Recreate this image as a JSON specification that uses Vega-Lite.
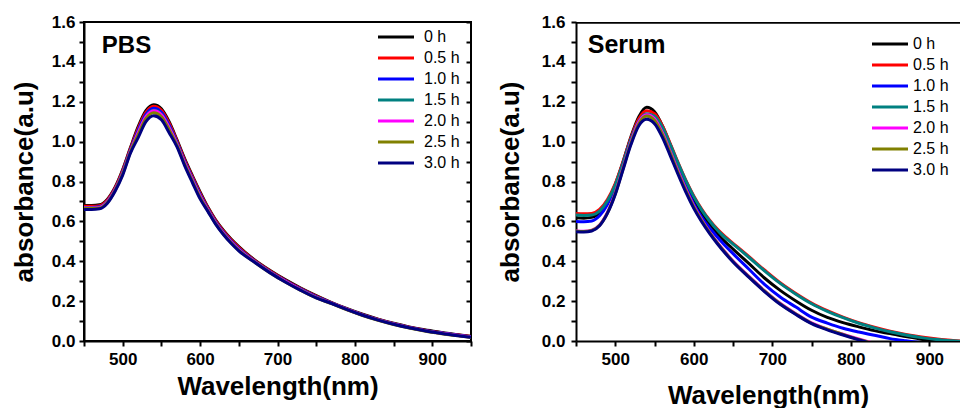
{
"$schema":"https://vega.github.io/schema/vega-lite/v6.json",
"background":"white",
"padding":{"left":10,"top":12,"right":0,"bottom":0},
"bounds":"flush",
"spacing":105,
"datasets":{
"pbs":[
{"t":"0 h","w":450,"a":0.680},{"t":"0 h","w":460,"a":0.680},{"t":"0 h","w":470,"a":0.683},{"t":"0 h","w":480,"a":0.710},{"t":"0 h","w":490,"a":0.770},{"t":"0 h","w":500,"a":0.860},{"t":"0 h","w":510,"a":0.970},{"t":"0 h","w":520,"a":1.075},{"t":"0 h","w":530,"a":1.155},{"t":"0 h","w":540,"a":1.185},{"t":"0 h","w":550,"a":1.165},{"t":"0 h","w":560,"a":1.100},{"t":"0 h","w":570,"a":1.010},{"t":"0 h","w":580,"a":0.915},{"t":"0 h","w":590,"a":0.830},{"t":"0 h","w":600,"a":0.748},{"t":"0 h","w":610,"a":0.672},{"t":"0 h","w":620,"a":0.608},{"t":"0 h","w":630,"a":0.556},{"t":"0 h","w":640,"a":0.512},{"t":"0 h","w":650,"a":0.474},{"t":"0 h","w":670,"a":0.408},{"t":"0 h","w":690,"a":0.355},{"t":"0 h","w":710,"a":0.308},{"t":"0 h","w":730,"a":0.266},{"t":"0 h","w":750,"a":0.228},{"t":"0 h","w":770,"a":0.193},{"t":"0 h","w":790,"a":0.162},{"t":"0 h","w":810,"a":0.134},{"t":"0 h","w":830,"a":0.110},{"t":"0 h","w":850,"a":0.089},{"t":"0 h","w":870,"a":0.071},{"t":"0 h","w":890,"a":0.056},{"t":"0 h","w":910,"a":0.044},{"t":"0 h","w":930,"a":0.033},{"t":"0 h","w":950,"a":0.024},
{"t":"0.5 h","w":450,"a":0.676},{"t":"0.5 h","w":460,"a":0.676},{"t":"0.5 h","w":470,"a":0.679},{"t":"0.5 h","w":480,"a":0.706},{"t":"0.5 h","w":490,"a":0.766},{"t":"0.5 h","w":500,"a":0.855},{"t":"0.5 h","w":510,"a":0.965},{"t":"0.5 h","w":520,"a":1.067},{"t":"0.5 h","w":530,"a":1.147},{"t":"0.5 h","w":540,"a":1.177},{"t":"0.5 h","w":550,"a":1.157},{"t":"0.5 h","w":560,"a":1.092},{"t":"0.5 h","w":570,"a":1.004},{"t":"0.5 h","w":580,"a":0.909},{"t":"0.5 h","w":590,"a":0.824},{"t":"0.5 h","w":600,"a":0.742},{"t":"0.5 h","w":610,"a":0.668},{"t":"0.5 h","w":620,"a":0.604},{"t":"0.5 h","w":630,"a":0.552},{"t":"0.5 h","w":640,"a":0.508},{"t":"0.5 h","w":650,"a":0.470},{"t":"0.5 h","w":670,"a":0.405},{"t":"0.5 h","w":690,"a":0.352},{"t":"0.5 h","w":710,"a":0.305},{"t":"0.5 h","w":730,"a":0.263},{"t":"0.5 h","w":750,"a":0.225},{"t":"0.5 h","w":770,"a":0.191},{"t":"0.5 h","w":790,"a":0.160},{"t":"0.5 h","w":810,"a":0.132},{"t":"0.5 h","w":830,"a":0.108},{"t":"0.5 h","w":850,"a":0.087},{"t":"0.5 h","w":870,"a":0.069},{"t":"0.5 h","w":890,"a":0.054},{"t":"0.5 h","w":910,"a":0.042},{"t":"0.5 h","w":930,"a":0.031},{"t":"0.5 h","w":950,"a":0.022},
{"t":"1.0 h","w":450,"a":0.670},{"t":"1.0 h","w":460,"a":0.670},{"t":"1.0 h","w":470,"a":0.673},{"t":"1.0 h","w":480,"a":0.700},{"t":"1.0 h","w":490,"a":0.760},{"t":"1.0 h","w":500,"a":0.848},{"t":"1.0 h","w":510,"a":0.958},{"t":"1.0 h","w":520,"a":1.057},{"t":"1.0 h","w":530,"a":1.137},{"t":"1.0 h","w":540,"a":1.167},{"t":"1.0 h","w":550,"a":1.147},{"t":"1.0 h","w":560,"a":1.082},{"t":"1.0 h","w":570,"a":0.996},{"t":"1.0 h","w":580,"a":0.901},{"t":"1.0 h","w":590,"a":0.816},{"t":"1.0 h","w":600,"a":0.734},{"t":"1.0 h","w":610,"a":0.662},{"t":"1.0 h","w":620,"a":0.598},{"t":"1.0 h","w":630,"a":0.546},{"t":"1.0 h","w":640,"a":0.502},{"t":"1.0 h","w":650,"a":0.464},{"t":"1.0 h","w":670,"a":0.402},{"t":"1.0 h","w":690,"a":0.349},{"t":"1.0 h","w":710,"a":0.302},{"t":"1.0 h","w":730,"a":0.260},{"t":"1.0 h","w":750,"a":0.222},{"t":"1.0 h","w":770,"a":0.190},{"t":"1.0 h","w":790,"a":0.159},{"t":"1.0 h","w":810,"a":0.131},{"t":"1.0 h","w":830,"a":0.107},{"t":"1.0 h","w":850,"a":0.086},{"t":"1.0 h","w":870,"a":0.068},{"t":"1.0 h","w":890,"a":0.053},{"t":"1.0 h","w":910,"a":0.041},{"t":"1.0 h","w":930,"a":0.030},{"t":"1.0 h","w":950,"a":0.021},
{"t":"1.5 h","w":450,"a":0.668},{"t":"1.5 h","w":460,"a":0.668},{"t":"1.5 h","w":470,"a":0.671},{"t":"1.5 h","w":480,"a":0.698},{"t":"1.5 h","w":490,"a":0.758},{"t":"1.5 h","w":500,"a":0.844},{"t":"1.5 h","w":510,"a":0.954},{"t":"1.5 h","w":520,"a":1.047},{"t":"1.5 h","w":530,"a":1.127},{"t":"1.5 h","w":540,"a":1.157},{"t":"1.5 h","w":550,"a":1.137},{"t":"1.5 h","w":560,"a":1.072},{"t":"1.5 h","w":570,"a":0.990},{"t":"1.5 h","w":580,"a":0.895},{"t":"1.5 h","w":590,"a":0.810},{"t":"1.5 h","w":600,"a":0.728},{"t":"1.5 h","w":610,"a":0.658},{"t":"1.5 h","w":620,"a":0.594},{"t":"1.5 h","w":630,"a":0.542},{"t":"1.5 h","w":640,"a":0.498},{"t":"1.5 h","w":650,"a":0.460},{"t":"1.5 h","w":670,"a":0.400},{"t":"1.5 h","w":690,"a":0.347},{"t":"1.5 h","w":710,"a":0.300},{"t":"1.5 h","w":730,"a":0.258},{"t":"1.5 h","w":750,"a":0.220},{"t":"1.5 h","w":770,"a":0.189},{"t":"1.5 h","w":790,"a":0.158},{"t":"1.5 h","w":810,"a":0.130},{"t":"1.5 h","w":830,"a":0.106},{"t":"1.5 h","w":850,"a":0.085},{"t":"1.5 h","w":870,"a":0.067},{"t":"1.5 h","w":890,"a":0.052},{"t":"1.5 h","w":910,"a":0.040},{"t":"1.5 h","w":930,"a":0.029},{"t":"1.5 h","w":950,"a":0.020},
{"t":"2.0 h","w":450,"a":0.667},{"t":"2.0 h","w":460,"a":0.667},{"t":"2.0 h","w":470,"a":0.670},{"t":"2.0 h","w":480,"a":0.697},{"t":"2.0 h","w":490,"a":0.757},{"t":"2.0 h","w":500,"a":0.842},{"t":"2.0 h","w":510,"a":0.952},{"t":"2.0 h","w":520,"a":1.045},{"t":"2.0 h","w":530,"a":1.125},{"t":"2.0 h","w":540,"a":1.155},{"t":"2.0 h","w":550,"a":1.135},{"t":"2.0 h","w":560,"a":1.070},{"t":"2.0 h","w":570,"a":0.988},{"t":"2.0 h","w":580,"a":0.893},{"t":"2.0 h","w":590,"a":0.808},{"t":"2.0 h","w":600,"a":0.726},{"t":"2.0 h","w":610,"a":0.657},{"t":"2.0 h","w":620,"a":0.593},{"t":"2.0 h","w":630,"a":0.541},{"t":"2.0 h","w":640,"a":0.497},{"t":"2.0 h","w":650,"a":0.459},{"t":"2.0 h","w":670,"a":0.399},{"t":"2.0 h","w":690,"a":0.346},{"t":"2.0 h","w":710,"a":0.299},{"t":"2.0 h","w":730,"a":0.257},{"t":"2.0 h","w":750,"a":0.219},{"t":"2.0 h","w":770,"a":0.189},{"t":"2.0 h","w":790,"a":0.158},{"t":"2.0 h","w":810,"a":0.130},{"t":"2.0 h","w":830,"a":0.106},{"t":"2.0 h","w":850,"a":0.085},{"t":"2.0 h","w":870,"a":0.067},{"t":"2.0 h","w":890,"a":0.052},{"t":"2.0 h","w":910,"a":0.040},{"t":"2.0 h","w":930,"a":0.029},{"t":"2.0 h","w":950,"a":0.020},
{"t":"2.5 h","w":450,"a":0.664},{"t":"2.5 h","w":460,"a":0.664},{"t":"2.5 h","w":470,"a":0.667},{"t":"2.5 h","w":480,"a":0.694},{"t":"2.5 h","w":490,"a":0.754},{"t":"2.5 h","w":500,"a":0.838},{"t":"2.5 h","w":510,"a":0.948},{"t":"2.5 h","w":520,"a":1.035},{"t":"2.5 h","w":530,"a":1.115},{"t":"2.5 h","w":540,"a":1.145},{"t":"2.5 h","w":550,"a":1.125},{"t":"2.5 h","w":560,"a":1.060},{"t":"2.5 h","w":570,"a":0.982},{"t":"2.5 h","w":580,"a":0.887},{"t":"2.5 h","w":590,"a":0.802},{"t":"2.5 h","w":600,"a":0.720},{"t":"2.5 h","w":610,"a":0.653},{"t":"2.5 h","w":620,"a":0.589},{"t":"2.5 h","w":630,"a":0.537},{"t":"2.5 h","w":640,"a":0.493},{"t":"2.5 h","w":650,"a":0.455},{"t":"2.5 h","w":670,"a":0.396},{"t":"2.5 h","w":690,"a":0.343},{"t":"2.5 h","w":710,"a":0.296},{"t":"2.5 h","w":730,"a":0.254},{"t":"2.5 h","w":750,"a":0.216},{"t":"2.5 h","w":770,"a":0.187},{"t":"2.5 h","w":790,"a":0.156},{"t":"2.5 h","w":810,"a":0.128},{"t":"2.5 h","w":830,"a":0.104},{"t":"2.5 h","w":850,"a":0.083},{"t":"2.5 h","w":870,"a":0.065},{"t":"2.5 h","w":890,"a":0.050},{"t":"2.5 h","w":910,"a":0.038},{"t":"2.5 h","w":930,"a":0.027},{"t":"2.5 h","w":950,"a":0.018},
{"t":"3.0 h","w":450,"a":0.660},{"t":"3.0 h","w":460,"a":0.660},{"t":"3.0 h","w":470,"a":0.663},{"t":"3.0 h","w":480,"a":0.690},{"t":"3.0 h","w":490,"a":0.750},{"t":"3.0 h","w":500,"a":0.832},{"t":"3.0 h","w":510,"a":0.942},{"t":"3.0 h","w":520,"a":1.020},{"t":"3.0 h","w":530,"a":1.100},{"t":"3.0 h","w":540,"a":1.130},{"t":"3.0 h","w":550,"a":1.110},{"t":"3.0 h","w":560,"a":1.045},{"t":"3.0 h","w":570,"a":0.975},{"t":"3.0 h","w":580,"a":0.880},{"t":"3.0 h","w":590,"a":0.795},{"t":"3.0 h","w":600,"a":0.713},{"t":"3.0 h","w":610,"a":0.650},{"t":"3.0 h","w":620,"a":0.586},{"t":"3.0 h","w":630,"a":0.534},{"t":"3.0 h","w":640,"a":0.490},{"t":"3.0 h","w":650,"a":0.452},{"t":"3.0 h","w":670,"a":0.396},{"t":"3.0 h","w":690,"a":0.343},{"t":"3.0 h","w":710,"a":0.296},{"t":"3.0 h","w":730,"a":0.254},{"t":"3.0 h","w":750,"a":0.216},{"t":"3.0 h","w":770,"a":0.188},{"t":"3.0 h","w":790,"a":0.157},{"t":"3.0 h","w":810,"a":0.129},{"t":"3.0 h","w":830,"a":0.105},{"t":"3.0 h","w":850,"a":0.084},{"t":"3.0 h","w":870,"a":0.066},{"t":"3.0 h","w":890,"a":0.051},{"t":"3.0 h","w":910,"a":0.039},{"t":"3.0 h","w":930,"a":0.028},{"t":"3.0 h","w":950,"a":0.019}
],
"serum":[
{"t":"0 h","w":450,"a":0.618},{"t":"0 h","w":460,"a":0.616},{"t":"0 h","w":470,"a":0.620},{"t":"0 h","w":480,"a":0.645},{"t":"0 h","w":490,"a":0.700},{"t":"0 h","w":500,"a":0.785},{"t":"0 h","w":510,"a":0.900},{"t":"0 h","w":520,"a":1.025},{"t":"0 h","w":530,"a":1.125},{"t":"0 h","w":540,"a":1.172},{"t":"0 h","w":550,"a":1.150},{"t":"0 h","w":560,"a":1.080},{"t":"0 h","w":570,"a":0.985},{"t":"0 h","w":580,"a":0.885},{"t":"0 h","w":590,"a":0.790},{"t":"0 h","w":600,"a":0.708},{"t":"0 h","w":610,"a":0.640},{"t":"0 h","w":620,"a":0.584},{"t":"0 h","w":630,"a":0.537},{"t":"0 h","w":640,"a":0.497},{"t":"0 h","w":650,"a":0.461},{"t":"0 h","w":670,"a":0.389},{"t":"0 h","w":690,"a":0.316},{"t":"0 h","w":710,"a":0.254},{"t":"0 h","w":730,"a":0.201},{"t":"0 h","w":750,"a":0.154},{"t":"0 h","w":770,"a":0.118},{"t":"0 h","w":790,"a":0.092},{"t":"0 h","w":810,"a":0.071},{"t":"0 h","w":830,"a":0.052},{"t":"0 h","w":850,"a":0.037},{"t":"0 h","w":870,"a":0.022},{"t":"0 h","w":890,"a":0.009},{"t":"0 h","w":910,"a":-0.003},{"t":"0 h","w":930,"a":-0.012},{"t":"0 h","w":950,"a":-0.020},
{"t":"0.5 h","w":450,"a":0.640},{"t":"0.5 h","w":460,"a":0.638},{"t":"0.5 h","w":470,"a":0.640},{"t":"0.5 h","w":480,"a":0.660},{"t":"0.5 h","w":490,"a":0.710},{"t":"0.5 h","w":500,"a":0.790},{"t":"0.5 h","w":510,"a":0.900},{"t":"0.5 h","w":520,"a":1.020},{"t":"0.5 h","w":530,"a":1.115},{"t":"0.5 h","w":540,"a":1.155},{"t":"0.5 h","w":550,"a":1.140},{"t":"0.5 h","w":560,"a":1.080},{"t":"0.5 h","w":570,"a":0.990},{"t":"0.5 h","w":580,"a":0.895},{"t":"0.5 h","w":590,"a":0.806},{"t":"0.5 h","w":600,"a":0.728},{"t":"0.5 h","w":610,"a":0.662},{"t":"0.5 h","w":620,"a":0.607},{"t":"0.5 h","w":630,"a":0.561},{"t":"0.5 h","w":640,"a":0.523},{"t":"0.5 h","w":650,"a":0.490},{"t":"0.5 h","w":670,"a":0.424},{"t":"0.5 h","w":690,"a":0.356},{"t":"0.5 h","w":710,"a":0.292},{"t":"0.5 h","w":730,"a":0.238},{"t":"0.5 h","w":750,"a":0.190},{"t":"0.5 h","w":770,"a":0.152},{"t":"0.5 h","w":790,"a":0.120},{"t":"0.5 h","w":810,"a":0.092},{"t":"0.5 h","w":830,"a":0.069},{"t":"0.5 h","w":850,"a":0.049},{"t":"0.5 h","w":870,"a":0.033},{"t":"0.5 h","w":890,"a":0.020},{"t":"0.5 h","w":910,"a":0.010},{"t":"0.5 h","w":930,"a":0.003},{"t":"0.5 h","w":950,"a":-0.004},
{"t":"1.0 h","w":450,"a":0.600},{"t":"1.0 h","w":460,"a":0.598},{"t":"1.0 h","w":470,"a":0.602},{"t":"1.0 h","w":480,"a":0.628},{"t":"1.0 h","w":490,"a":0.685},{"t":"1.0 h","w":500,"a":0.772},{"t":"1.0 h","w":510,"a":0.890},{"t":"1.0 h","w":520,"a":1.010},{"t":"1.0 h","w":530,"a":1.100},{"t":"1.0 h","w":540,"a":1.130},{"t":"1.0 h","w":550,"a":1.110},{"t":"1.0 h","w":560,"a":1.045},{"t":"1.0 h","w":570,"a":0.955},{"t":"1.0 h","w":580,"a":0.860},{"t":"1.0 h","w":590,"a":0.770},{"t":"1.0 h","w":600,"a":0.688},{"t":"1.0 h","w":610,"a":0.622},{"t":"1.0 h","w":620,"a":0.568},{"t":"1.0 h","w":630,"a":0.522},{"t":"1.0 h","w":640,"a":0.478},{"t":"1.0 h","w":650,"a":0.438},{"t":"1.0 h","w":670,"a":0.361},{"t":"1.0 h","w":690,"a":0.284},{"t":"1.0 h","w":710,"a":0.221},{"t":"1.0 h","w":730,"a":0.170},{"t":"1.0 h","w":750,"a":0.120},{"t":"1.0 h","w":770,"a":0.090},{"t":"1.0 h","w":790,"a":0.064},{"t":"1.0 h","w":810,"a":0.045},{"t":"1.0 h","w":830,"a":0.029},{"t":"1.0 h","w":850,"a":0.012},{"t":"1.0 h","w":870,"a":0.001},{"t":"1.0 h","w":890,"a":-0.008},{"t":"1.0 h","w":910,"a":-0.015},{"t":"1.0 h","w":930,"a":-0.020},{"t":"1.0 h","w":950,"a":-0.025},
{"t":"1.5 h","w":450,"a":0.632},{"t":"1.5 h","w":460,"a":0.630},{"t":"1.5 h","w":470,"a":0.632},{"t":"1.5 h","w":480,"a":0.652},{"t":"1.5 h","w":490,"a":0.702},{"t":"1.5 h","w":500,"a":0.782},{"t":"1.5 h","w":510,"a":0.892},{"t":"1.5 h","w":520,"a":1.010},{"t":"1.5 h","w":530,"a":1.102},{"t":"1.5 h","w":540,"a":1.140},{"t":"1.5 h","w":550,"a":1.128},{"t":"1.5 h","w":560,"a":1.072},{"t":"1.5 h","w":570,"a":0.985},{"t":"1.5 h","w":580,"a":0.892},{"t":"1.5 h","w":590,"a":0.803},{"t":"1.5 h","w":600,"a":0.724},{"t":"1.5 h","w":610,"a":0.658},{"t":"1.5 h","w":620,"a":0.603},{"t":"1.5 h","w":630,"a":0.557},{"t":"1.5 h","w":640,"a":0.519},{"t":"1.5 h","w":650,"a":0.486},{"t":"1.5 h","w":670,"a":0.420},{"t":"1.5 h","w":690,"a":0.352},{"t":"1.5 h","w":710,"a":0.289},{"t":"1.5 h","w":730,"a":0.235},{"t":"1.5 h","w":750,"a":0.187},{"t":"1.5 h","w":770,"a":0.149},{"t":"1.5 h","w":790,"a":0.117},{"t":"1.5 h","w":810,"a":0.089},{"t":"1.5 h","w":830,"a":0.066},{"t":"1.5 h","w":850,"a":0.046},{"t":"1.5 h","w":870,"a":0.030},{"t":"1.5 h","w":890,"a":0.017},{"t":"1.5 h","w":910,"a":0.007},{"t":"1.5 h","w":930,"a":0.001},{"t":"1.5 h","w":950,"a":-0.005},
{"t":"2.0 h","w":450,"a":0.552},{"t":"2.0 h","w":460,"a":0.551},{"t":"2.0 h","w":470,"a":0.556},{"t":"2.0 h","w":480,"a":0.582},{"t":"2.0 h","w":490,"a":0.645},{"t":"2.0 h","w":500,"a":0.742},{"t":"2.0 h","w":510,"a":0.870},{"t":"2.0 h","w":520,"a":0.998},{"t":"2.0 h","w":530,"a":1.098},{"t":"2.0 h","w":540,"a":1.135},{"t":"2.0 h","w":550,"a":1.115},{"t":"2.0 h","w":560,"a":1.045},{"t":"2.0 h","w":570,"a":0.950},{"t":"2.0 h","w":580,"a":0.852},{"t":"2.0 h","w":590,"a":0.760},{"t":"2.0 h","w":600,"a":0.677},{"t":"2.0 h","w":610,"a":0.608},{"t":"2.0 h","w":620,"a":0.548},{"t":"2.0 h","w":630,"a":0.495},{"t":"2.0 h","w":640,"a":0.446},{"t":"2.0 h","w":650,"a":0.401},{"t":"2.0 h","w":670,"a":0.325},{"t":"2.0 h","w":690,"a":0.253},{"t":"2.0 h","w":710,"a":0.189},{"t":"2.0 h","w":730,"a":0.137},{"t":"2.0 h","w":750,"a":0.091},{"t":"2.0 h","w":770,"a":0.060},{"t":"2.0 h","w":790,"a":0.034},{"t":"2.0 h","w":810,"a":0.010},{"t":"2.0 h","w":830,"a":-0.012},{"t":"2.0 h","w":850,"a":-0.028},{"t":"2.0 h","w":870,"a":-0.040},{"t":"2.0 h","w":890,"a":-0.050},{"t":"2.0 h","w":910,"a":-0.058},{"t":"2.0 h","w":930,"a":-0.064},{"t":"2.0 h","w":950,"a":-0.070},
{"t":"2.5 h","w":450,"a":0.550},{"t":"2.5 h","w":460,"a":0.549},{"t":"2.5 h","w":470,"a":0.554},{"t":"2.5 h","w":480,"a":0.580},{"t":"2.5 h","w":490,"a":0.642},{"t":"2.5 h","w":500,"a":0.738},{"t":"2.5 h","w":510,"a":0.865},{"t":"2.5 h","w":520,"a":0.992},{"t":"2.5 h","w":530,"a":1.090},{"t":"2.5 h","w":540,"a":1.128},{"t":"2.5 h","w":550,"a":1.106},{"t":"2.5 h","w":560,"a":1.036},{"t":"2.5 h","w":570,"a":0.942},{"t":"2.5 h","w":580,"a":0.845},{"t":"2.5 h","w":590,"a":0.754},{"t":"2.5 h","w":600,"a":0.672},{"t":"2.5 h","w":610,"a":0.604},{"t":"2.5 h","w":620,"a":0.545},{"t":"2.5 h","w":630,"a":0.492},{"t":"2.5 h","w":640,"a":0.444},{"t":"2.5 h","w":650,"a":0.399},{"t":"2.5 h","w":670,"a":0.323},{"t":"2.5 h","w":690,"a":0.251},{"t":"2.5 h","w":710,"a":0.187},{"t":"2.5 h","w":730,"a":0.135},{"t":"2.5 h","w":750,"a":0.089},{"t":"2.5 h","w":770,"a":0.059},{"t":"2.5 h","w":790,"a":0.033},{"t":"2.5 h","w":810,"a":0.008},{"t":"2.5 h","w":830,"a":-0.013},{"t":"2.5 h","w":850,"a":-0.029},{"t":"2.5 h","w":870,"a":-0.041},{"t":"2.5 h","w":890,"a":-0.051},{"t":"2.5 h","w":910,"a":-0.059},{"t":"2.5 h","w":930,"a":-0.065},{"t":"2.5 h","w":950,"a":-0.071},
{"t":"3.0 h","w":450,"a":0.548},{"t":"3.0 h","w":460,"a":0.547},{"t":"3.0 h","w":470,"a":0.552},{"t":"3.0 h","w":480,"a":0.578},{"t":"3.0 h","w":490,"a":0.640},{"t":"3.0 h","w":500,"a":0.735},{"t":"3.0 h","w":510,"a":0.860},{"t":"3.0 h","w":520,"a":0.985},{"t":"3.0 h","w":530,"a":1.080},{"t":"3.0 h","w":540,"a":1.112},{"t":"3.0 h","w":550,"a":1.090},{"t":"3.0 h","w":560,"a":1.022},{"t":"3.0 h","w":570,"a":0.930},{"t":"3.0 h","w":580,"a":0.835},{"t":"3.0 h","w":590,"a":0.745},{"t":"3.0 h","w":600,"a":0.665},{"t":"3.0 h","w":610,"a":0.598},{"t":"3.0 h","w":620,"a":0.540},{"t":"3.0 h","w":630,"a":0.488},{"t":"3.0 h","w":640,"a":0.440},{"t":"3.0 h","w":650,"a":0.396},{"t":"3.0 h","w":670,"a":0.320},{"t":"3.0 h","w":690,"a":0.248},{"t":"3.0 h","w":710,"a":0.184},{"t":"3.0 h","w":730,"a":0.133},{"t":"3.0 h","w":750,"a":0.087},{"t":"3.0 h","w":770,"a":0.056},{"t":"3.0 h","w":790,"a":0.030},{"t":"3.0 h","w":810,"a":0.006},{"t":"3.0 h","w":830,"a":-0.015},{"t":"3.0 h","w":850,"a":-0.030},{"t":"3.0 h","w":870,"a":-0.042},{"t":"3.0 h","w":890,"a":-0.052},{"t":"3.0 h","w":910,"a":-0.060},{"t":"3.0 h","w":930,"a":-0.066},{"t":"3.0 h","w":950,"a":-0.072}
]
},
"hconcat":[
{
"width":387,"height":319,
"view":{"stroke":"black","strokeWidth":2},
"data":{"name":"pbs"},
"resolve":{"axis":{"x":"independent","y":"independent"}},
"layer":[
{
"mark":{"type":"line","strokeWidth":3,"interpolate":"monotone","clip":true},
"encoding":{
"x":{"field":"w","type":"quantitative","title":"Wavelength(nm)","scale":{"domain":[450,950],"nice":false,"zero":false},
"axis":{"orient":"bottom","values":[450,500,550,600,650,700,750,800,850,900,950],"format":"d","labelExpr":"datum.value % 100 == 0 ? datum.label : ''","labelPadding":5,"titlePadding":6,"ticks":true,"tickSize":5,"domain":true,"domainColor":"black","domainWidth":2}},
"y":{"field":"a","type":"quantitative","title":"absorbance(a.u)","scale":{"domain":[0,1.6],"nice":false,"zero":false},
"axis":{"orient":"left","values":[0,0.1,0.2,0.3,0.4,0.5,0.6,0.7,0.8,0.9,1.0,1.1,1.2,1.3,1.4,1.5,1.6],"format":".1f","labelExpr":"round(datum.value*10) % 2 == 0 ? datum.label : ''","labelPadding":4,"titlePadding":14,"ticks":true,"tickSize":5,"domain":true,"domainColor":"black","domainWidth":2}},
"color":{"field":"t","type":"nominal",
"scale":{"domain":["0 h","0.5 h","1.0 h","1.5 h","2.0 h","2.5 h","3.0 h"],"range":["#000000","#FF0000","#0000FF","#008080","#FF00FF","#808000","#000080"]},
"legend":{"orient":"none","legendX":294,"legendY":7,"title":null,"padding":0,"symbolType":"M-4,0H4","symbolSize":81,"symbolStrokeWidth":3,"symbolOffset":10,"labelOffset":20,"rowPadding":5,"labelFont":"Liberation Sans","labelFontSize":16,"labelFontWeight":"normal","labelColor":"black"}}
}
},
{
"mark":{"type":"point","opacity":0},
"encoding":{
"x":{"field":"w","type":"quantitative","axis":null},
"y":{"field":"a","type":"quantitative","axis":{"orient":"right","title":null,"values":[0,0.1,0.2,0.3,0.4,0.5,0.6,0.7,0.8,0.9,1.0,1.1,1.2,1.3,1.4,1.5,1.6],"labels":false,"ticks":true,"tickSize":5,"offset":-5,"domain":false}}
}
},
{
"data":{"values":[{"label":"PBS"}]},
"mark":{"type":"text","font":"Liberation Sans","fontWeight":"bold","fontSize":24,"align":"left","baseline":"alphabetic","color":"black"},
"encoding":{"x":{"datum":473,"type":"quantitative","axis":null},"y":{"datum":1.444,"type":"quantitative","axis":null},"text":{"field":"label"}}
}
]
},
{
"width":384,"height":319,
"view":{"stroke":null},
"data":{"name":"serum"},
"resolve":{"axis":{"x":"independent","y":"independent"}},
"layer":[
{
"mark":{"type":"line","strokeWidth":3,"interpolate":"monotone","clip":true},
"encoding":{
"x":{"field":"w","type":"quantitative","title":"Wavelength(nm)","scale":{"domain":[450,939],"nice":false,"zero":false},
"axis":{"orient":"bottom","values":[450,500,550,600,650,700,750,800,850,900],"format":"d","labelExpr":"datum.value % 100 == 0 ? datum.label : ''","labelPadding":5,"titlePadding":15,"ticks":true,"tickSize":5,"domain":true,"domainColor":"black","domainWidth":2}},
"y":{"field":"a","type":"quantitative","title":"absorbance(a.u)","scale":{"domain":[0,1.6],"nice":false,"zero":false},
"axis":{"orient":"left","values":[0,0.1,0.2,0.3,0.4,0.5,0.6,0.7,0.8,0.9,1.0,1.1,1.2,1.3,1.4,1.5,1.6],"format":".1f","labelExpr":"round(datum.value*10) % 2 == 0 ? datum.label : ''","labelPadding":6,"titlePadding":18,"ticks":true,"tickSize":5,"domain":true,"domainColor":"black","domainWidth":2}},
"color":{"field":"t","type":"nominal",
"scale":{"domain":["0 h","0.5 h","1.0 h","1.5 h","2.0 h","2.5 h","3.0 h"],"range":["#000000","#FF0000","#0000FF","#008080","#FF00FF","#808000","#000080"]},
"legend":{"orient":"none","legendX":296,"legendY":14,"title":null,"padding":0,"symbolType":"M-4,0H4","symbolSize":81,"symbolStrokeWidth":3,"symbolOffset":10,"labelOffset":15,"rowPadding":5,"labelFont":"Liberation Sans","labelFontSize":16,"labelFontWeight":"normal","labelColor":"black"}}
}
},
{
"transform":[{"filter":"datum.t == '0 h'"}],
"mark":{"type":"line","color":"black","strokeWidth":2,"clip":true},
"encoding":{
"x":{"field":"w","type":"quantitative","axis":null},
"y":{"datum":1.596,"type":"quantitative","axis":null}
}
},
{
"data":{"values":[{"label":"Serum"}]},
"mark":{"type":"text","font":"Liberation Sans","fontWeight":"bold","fontSize":25,"align":"left","baseline":"alphabetic","color":"black"},
"encoding":{"x":{"datum":465,"type":"quantitative","axis":null},"y":{"datum":1.444,"type":"quantitative","axis":null},"text":{"field":"label"}}
}
]
}
],
"resolve":{"scale":{"color":"independent"},"legend":{"color":"independent"}},
"config":{
"font":"Liberation Sans",
"axis":{"labelFont":"Liberation Sans","labelFontWeight":"bold","labelFontSize":17,"labelColor":"black","titleFont":"Liberation Sans","titleFontWeight":"bold","titleFontSize":26,"titleColor":"black","ticks":true,"tickColor":"black","tickWidth":2,"tickSize":5,"grid":false,"labelFlush":false,"labelOverlap":false}
}
}
